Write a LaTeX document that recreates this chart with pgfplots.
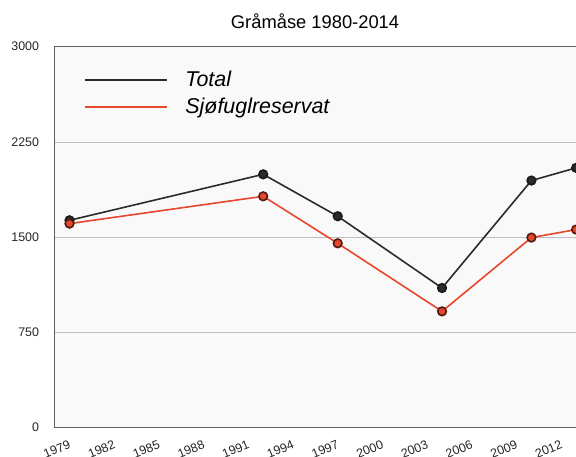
\documentclass[border=0pt]{standalone}
\usepackage{pgfplots}
\pgfplotsset{compat=1.18}
\usepackage{fontspec}
\setmainfont{Liberation Sans}
\definecolor{totalc}{HTML}{2B2B2B}
\definecolor{reservc}{HTML}{E8472B}
\definecolor{gridc}{HTML}{BEBEBE}
\definecolor{framec}{HTML}{606060}
\definecolor{bgc}{HTML}{F9F9F9}
\begin{document}
\begin{tikzpicture}
\useasboundingbox (0bp,0bp) rectangle (576bp,457bp);
\clip (0bp,0bp) rectangle (576bp,457bp);
\begin{axis}[
 at={(54.6bp,29.3bp)}, anchor=south west,
 scale only axis, width=523bp, height=381bp,
 xmin=1979, xmax=2014.1, ymin=0, ymax=3000,
 xtick={1979,1982,...,2012},
 ytick={0,750,1500,2250,3000},
 /pgf/number format/1000 sep={},
 /pgf/number format/assume math mode=true,
 major tick length=0pt,
 ymajorgrids, grid style={gridc, line width=0.8bp},
 axis line style={framec, line width=1bp},
 axis background/.style={fill=bgc},
 yticklabel style={font=\fontsize{12.5}{14}\selectfont, text=black!85, xshift=-12bp},
 xticklabel style={font=\fontsize{12.5}{14}\selectfont, text=black!85, rotate=22, anchor=center, yshift=-21bp, xshift=-6bp},
 title={Gråmåse 1980-2014},
 title style={at={(0.498,1)}, anchor=center, yshift=19.5bp, font=\fontsize{18.4}{22}\selectfont},
 legend style={at={(0.0509,0.946)}, anchor=north west, draw=none, fill=none, font=\fontsize{21.5}{25}\selectfont\itshape, row sep=6bp},
 legend cell align=left,
 legend image code/.code={\draw[#1, line width=2bp] (0bp,0bp) -- (81.6bp,0bp); \path[draw=none, fill=none] (0bp,0bp) -- (98bp,0bp);},
]
\addplot[totalc, line width=1.6bp, mark=*, mark size=4.3bp, mark options={fill=totalc, draw=black!90}]
 coordinates {(1980,1633) (1993,1995) (1998,1665) (2005,1100) (2011,1946) (2014,2046)};
\addlegendentry{Total}
\addplot[reservc, line width=1.6bp, mark=*, mark size=4.3bp, mark options={fill=reservc, draw=black!65!reservc}]
 coordinates {(1980,1607) (1993,1822) (1998,1452) (2005,916) (2011,1497) (2014,1560)};
\addlegendentry{Sjøfuglreservat}
\end{axis}
\end{tikzpicture}
\end{document}
